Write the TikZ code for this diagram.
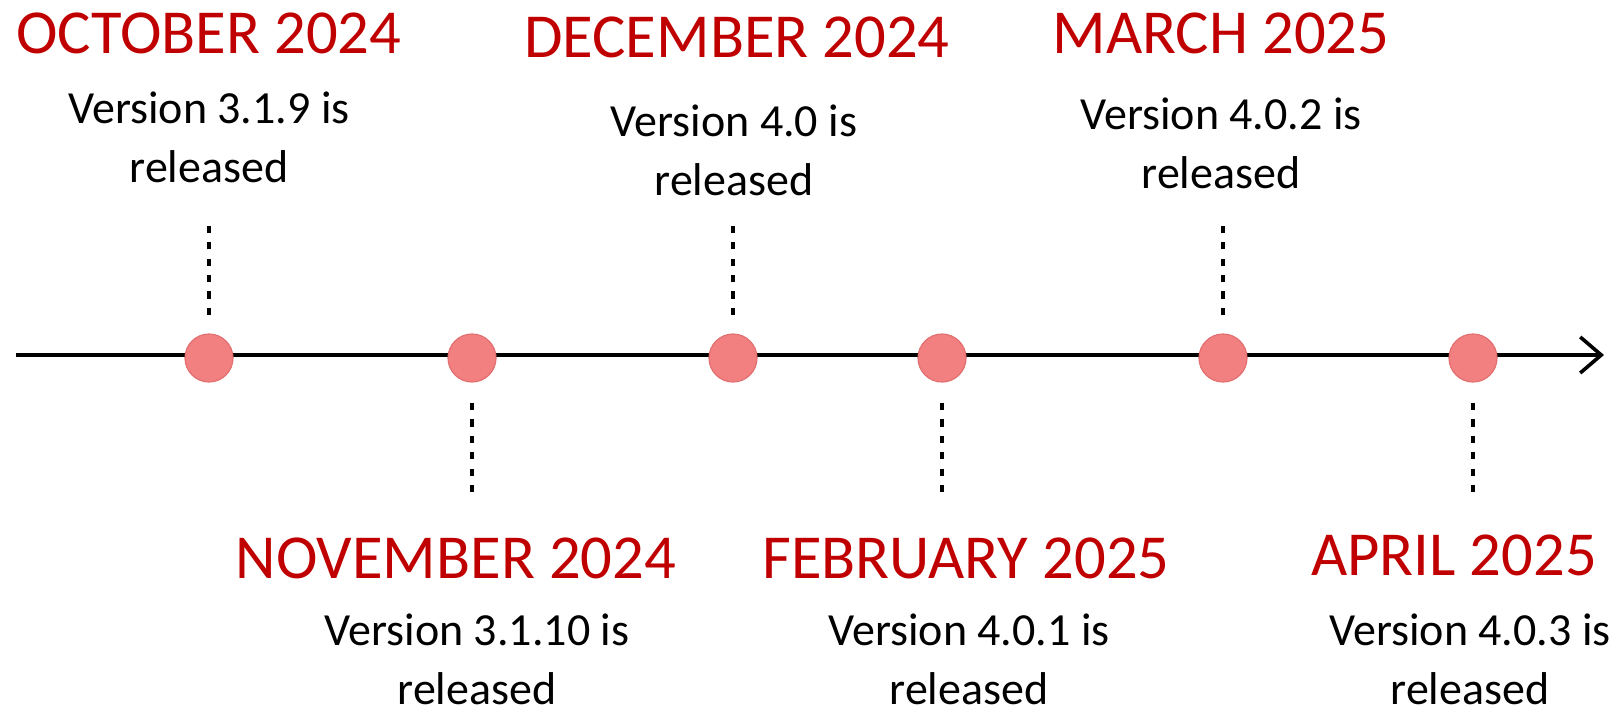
\documentclass[tikz,border=0pt]{standalone}
\usepackage{fontspec}
\setmainfont{Carlito}
\usetikzlibrary{arrows.meta}
\definecolor{datered}{RGB}{192,0,0}
\definecolor{dotfill}{RGB}{242,128,128}
\definecolor{dotline}{RGB}{226,112,112}

\begin{document}
\begin{tikzpicture}[x=0.5pt, y=-0.5pt,
  dot/.style={circle, fill=dotfill, draw=dotline, line width=0.6pt, minimum size=24pt, inner sep=0pt},
  guide/.style={line width=1.9pt, dash pattern=on 3.6pt off 4.6pt},
  datelabel/.style={anchor=base, inner sep=0pt, text=datered, font=\fontsize{31.3pt}{37pt}\selectfont},
  verlabel/.style={anchor=base, inner sep=0pt, align=center, font=\fontsize{23pt}{29.5pt}\selectfont}]
  \useasboundingbox (0,0) rectangle (1623,714);

  % Time axis
  \coordinate (start) at (16,355);
  \coordinate (end) at (1604,355);
  \draw[line width=1.8pt, -{Straight Barb[length=10.5pt, width=18pt]}] (start) -- (end);

  % Release dots
  \foreach \n/\x in {1/209, 2/472, 3/733, 4/942, 5/1223, 6/1473} {
    \node[dot] (d\n) at (\x, 358) {};
  }

  % Dashed guides above and below
  \foreach \n in {1,3,5} {
    \draw[guide] (d\n) ++(0,-43) coordinate (g\n) -- ++(0,-89);
  }
  \foreach \n in {2,4,6} {
    \draw[guide] (d\n) ++(0,45) coordinate (g\n) -- ++(0,92);
  }

  % Dates
  \node[datelabel] (m1) at (209,53) {OCTOBER 2024};
  \node[datelabel] (m2) at (456,578) {NOVEMBER 2024};
  \node[datelabel] (m3) at (737,57) {DECEMBER 2024};
  \node[datelabel] (m4) at (966,578) {FEBRUARY 2025};
  \node[datelabel] (m5) at (1221,53) {MARCH 2025};
  \node[datelabel] (m6) at (1454,575) {APRIL 2025};

  % Versions (base = last line)
  \node[verlabel] (v1) at (209,182) {Version 3.1.9 is\\released};
  \node[verlabel] (v2) at (477,704) {Version 3.1.10 is\\released};
  \node[verlabel] (v3) at (734,195) {Version 4.0 is\\released};
  \node[verlabel] (v4) at (969,704) {Version 4.0.1 is\\released};
  \node[verlabel] (v5) at (1221,188) {Version 4.0.2 is\\released};
  \node[verlabel] (v6) at (1470,704) {Version 4.0.3 is\\released};
\end{tikzpicture}
\end{document}
